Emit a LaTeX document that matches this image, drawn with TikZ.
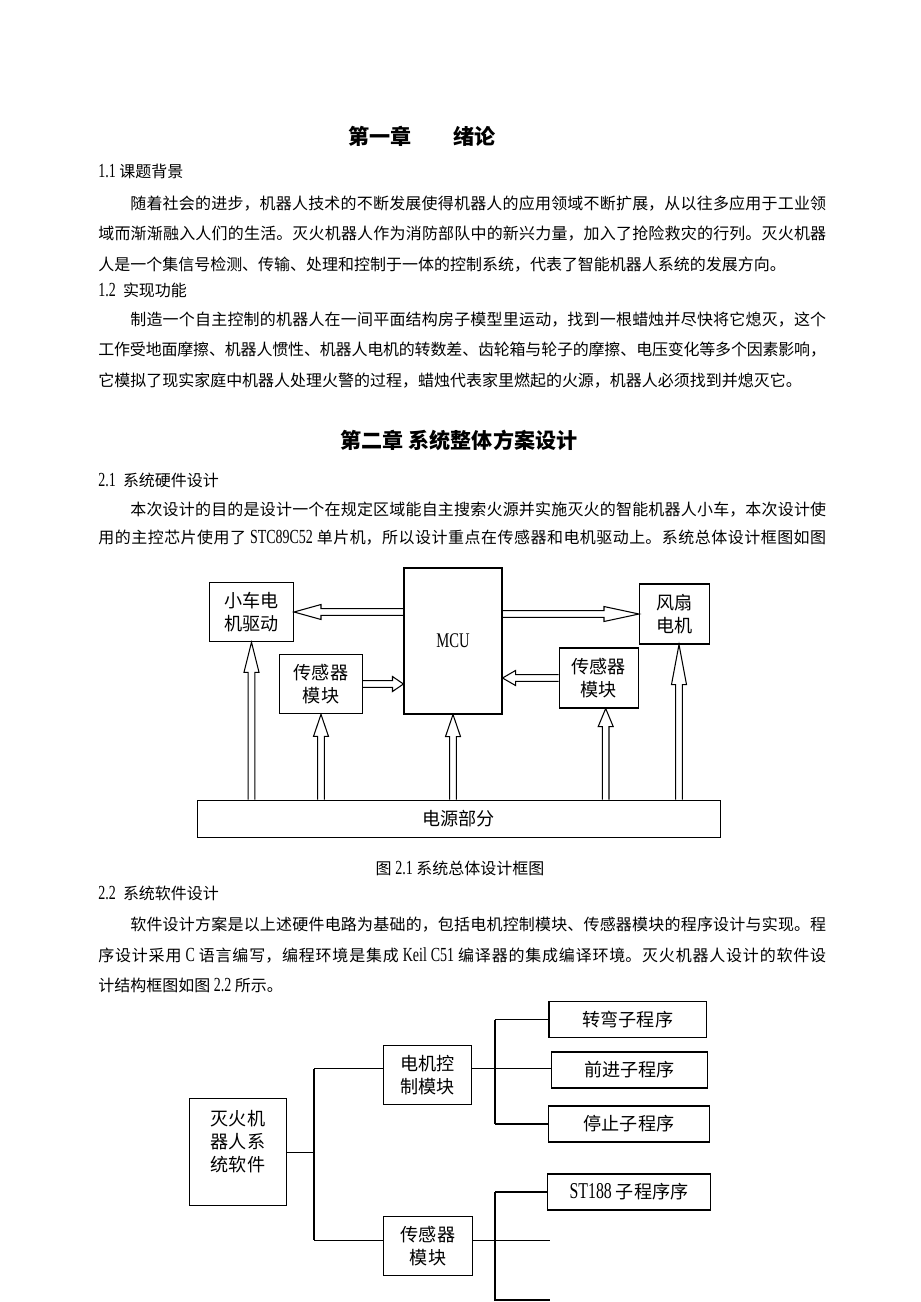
\documentclass[tikz,border=0pt]{standalone}
\usepackage{fontspec}
\setmainfont{Noto Sans CJK SC}
\newfontfamily\lat[FakeStretch=0.7,Scale=1.25]{Liberation Serif}
\usetikzlibrary{calc}

\XeTeXlinebreaklocale "zh"
\XeTeXlinebreakskip=0pt plus 2pt minus 0.4pt

% justified text lines (full width and indented)
\newcommand\fullline[1]{\parbox{14.56cm}{\parfillskip=0pt #1}}
\newcommand\indline[1]{\parbox{13.92cm}{\parfillskip=0pt #1}}

% half widths of the hollow arrows
\def\shaftw{0.066cm}
\def\headw{0.15cm}

\begin{document}
\begin{tikzpicture}[x=0.02cm,y=-0.02cm,
  body/.style={anchor=west,inner sep=0pt,font=\fontsize{9.1}{11}\selectfont},
  chap/.style={inner sep=0pt,font=\fontsize{12}{14}\selectfont\bfseries},
  box/.style={draw,line width=0.6pt,inner sep=0pt,align=center,font=\fontsize{10.3}{13}\selectfont},
  size/.style 2 args={minimum width=#1*0.02cm,minimum height=#2*0.02cm},
  wire/.style={line width=0.6pt},
  head len/.store in=\hlen, head len=0.5cm,
  barrow/.style={line width=0.6pt,to path={
    ($(\tikztostart)!\shaftw!90:(\tikztotarget)$)
    -- ($(\tikztotarget)!\hlen!(\tikztostart)!\shaftw!90:(\tikztotarget)$)
    -- ($(\tikztotarget)!\hlen!(\tikztostart)!\headw!90:(\tikztotarget)$)
    -- (\tikztotarget)
    -- ($(\tikztotarget)!\hlen!(\tikztostart)!\headw!-90:(\tikztotarget)$)
    -- ($(\tikztotarget)!\hlen!(\tikztostart)!\shaftw!-90:(\tikztotarget)$)
    -- ($(\tikztostart)!\shaftw!-90:(\tikztotarget)$)}}]

    \fill[white] (0,0) rectangle (920,1302);
    \useasboundingbox (0,0) rectangle (920,1302);

    % Chapter one
    \node[chap,anchor=west] (chap1) at (348,136) {第一章　　绪论};
    \node[body] (sec11) at (98,171) {{\lat 1.1} 课题背景};
    \node[body] (par1a) at (130,204) {\indline{随着社会的进步，机器人技术的不断发展使得机器人的应用领域不断扩展，从以往多应用于工业领}};
    \node[body] (par1b) at (98,234) {\fullline{域而渐渐融入人们的生活。灭火机器人作为消防部队中的新兴力量，加入了抢险救灾的行列。灭火机器}};
    \node[body] (par1c) at (98,265) {人是一个集信号检测、传输、处理和控制于一体的控制系统，代表了智能机器人系统的发展方向。};
    \node[body] (sec12) at (98,290) {{\lat 1.2} \ 实现功能};
    \node[body] (par2a) at (130,320) {\indline{制造一个自主控制的机器人在一间平面结构房子模型里运动，找到一根蜡烛并尽快将它熄灭，这个}};
    \node[body] (par2b) at (98,350) {\fullline{工作受地面摩擦、机器人惯性、机器人电机的转数差、齿轮箱与轮子的摩擦、电压变化等多个因素影响，}};
    \node[body] (par2c) at (98,381) {它模拟了现实家庭中机器人处理火警的过程，蜡烛代表家里燃起的火源，机器人必须找到并熄灭它。};

    % Chapter two
    \node[chap] (chap2) at (459,440) {第二章 系统整体方案设计};
    \node[body] (sec21) at (98,480) {{\lat 2.1} \ 系统硬件设计};
    \node[body] (par3a) at (130,510) {\indline{本次设计的目的是设计一个在规定区域能自主搜索火源并实施灭火的智能机器人小车，本次设计使}};
    \node[body] (par3b) at (98,538) {\fullline{用的主控芯片使用了 {\lat STC89C52} 单片机，所以设计重点在传感器和电机驱动上。系统总体设计框图如图}};

    % Hardware blocks
    \node[box,size={84}{59.5}] (drv) at (251.5,612) {小车电\\机驱动};
    \node[box,size={98}{146}] (mcu) at (453,641) {\lat\fontsize{9.5}{11}\selectfont MCU};
    \node[box,size={70}{60}] (fan) at (674.5,614) {风扇\\电机};
    \node[box,size={83.3}{59.7}] (senL) at (321,684) {传感器\\模块};
    \node[box,size={79.2}{60}] (senR) at (598.7,678) {传感器\\模块};
    \node[box,size={523}{37.7}] (pwr) at (458.8,819) {电源部分};

    % Hollow arrows between blocks
    \coordinate (senRx) at ($(senR.south)+(7,0)$);
    \coordinate (fanx) at ($(fan.south)+(4.5,0)$);
    \draw[barrow,head len=0.54cm] (mcu.west |- drv.east) to (drv.east);
    \draw[barrow,head len=0.70cm] (mcu.east |- fan.west) to (fan.west);
    \draw[barrow,head len=0.22cm] (senL.east) to (senL.east -| mcu.west);
    \draw[barrow,head len=0.26cm] (senR.west) to (senR.west -| mcu.east);
    \draw[barrow,head len=0.60cm] (drv.south |- pwr.north) to (drv.south);
    \draw[barrow,head len=0.44cm] (senL.south |- pwr.north) to (senL.south);
    \draw[barrow,head len=0.44cm] (mcu.south |- pwr.north) to (mcu.south);
    \draw[barrow,head len=0.36cm] (senRx |- pwr.north) to (senRx);
    \draw[barrow,head len=0.80cm] (fanx |- pwr.north) to (fanx);

    \node[body,anchor=center] (cap21) at (460,868) {图 {\lat 2.1} 系统总体设计框图};
    \node[body] (sec22) at (98,893) {{\lat 2.2} \ 系统软件设计};
    \node[body] (par4a) at (130,925) {\indline{软件设计方案是以上述硬件电路为基础的，包括电机控制模块、传感器模块的程序设计与实现。程}};
    \node[body] (par4b) at (98,955) {\fullline{序设计采用 {\lat C} 语言编写，编程环境是集成 {\lat Keil C51} 编译器的集成编译环境。灭火机器人设计的软件设}};
    \node[body] (par4c) at (98,985) {计结构框图如图 {\lat 2.2} 所示。};

    % Software tree
    \node[box,size={97}{107}] (root) at (238,1152.4) {灭火机\\器人系\\统软件\\~};
    \node[box,size={87.7}{59.3}] (motor) at (427.6,1074.7) {电机控\\制模块};
    \node[box,size={88.7}{59.3}] (sensB) at (428,1246.3) {传感器\\模块};
    \node[box,size={157.8}{35.6}] (turn) at (627.9,1019.5) {转弯子程序};
    \node[box,size={156.8}{36}] (fwd) at (629.5,1070) {前进子程序};
    \node[box,size={161.4}{36}] (halt) at (629,1124) {停止子程序};
    \node[box,size={163.5}{36}] (st) at (629,1192) {{\lat ST188} 子程序序};

    \coordinate (bus1) at (314,0);
    \coordinate (bus2) at (495,0);
    \coordinate (mIn) at ($(motor.west)+(0,-6)$);
    \coordinate (mOut) at ($(motor.east)+(0,-6)$);
    \coordinate (sIn) at ($(sensB.west)+(0,-6)$);
    \coordinate (sOut) at ($(sensB.east)+(0,-6)$);
    \coordinate (endA) at (550,0);
    \coordinate (endB) at (550,1300);

    \draw[wire] (root.east) -- (root.east -| bus1);
    \draw[wire] (mIn -| bus1) -- (sIn -| bus1);
    \draw[wire] (mIn -| bus1) -- (mIn);
    \draw[wire] (sIn -| bus1) -- (sIn);

    \draw[wire] (mOut) -- (mOut -| bus2);
    \draw[wire] (turn.west -| bus2) -- (halt.west -| bus2);
    \draw[wire] (turn.west -| bus2) -- (turn.west);
    \draw[wire] (mOut -| bus2) -- (mOut -| fwd.west);
    \draw[wire] (halt.west -| bus2) -- (halt.west);

    \draw[wire] (sOut) -- (sOut -| endA);
    \draw[wire] (st.west -| bus2) -- (endB -| bus2) -- (endB);
    \draw[wire] (st.west -| bus2) -- (st.west);

\end{tikzpicture}
\end{document}
